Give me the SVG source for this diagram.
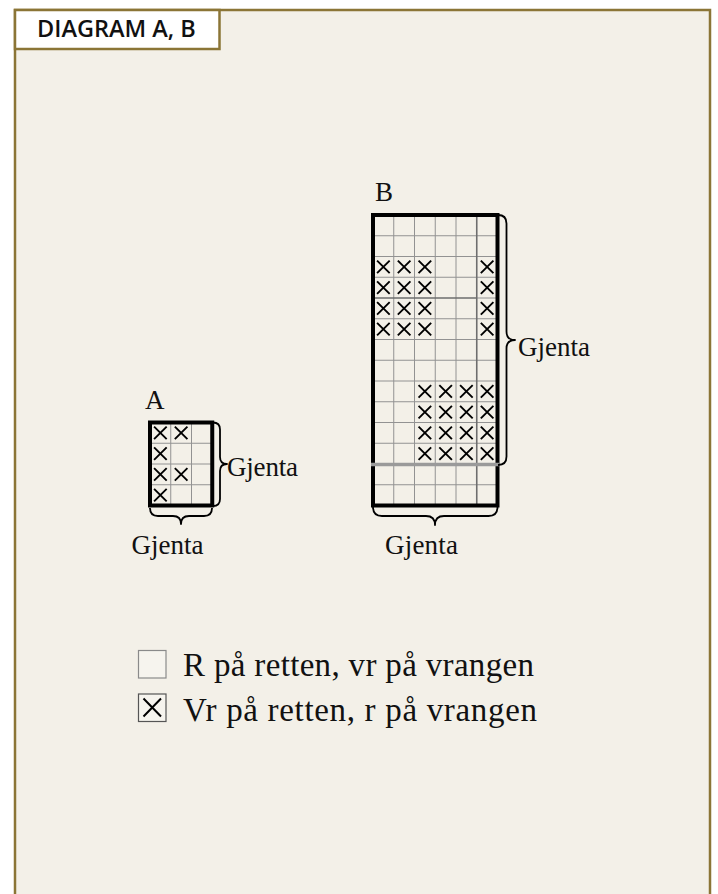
<svg xmlns="http://www.w3.org/2000/svg" xmlns:xlink="http://www.w3.org/1999/xlink" width="718" height="894" viewBox="0 0 718 894">
<style>
.frame{fill:#F3F0E8;stroke:#8B7536;stroke-width:2.5}
.title{font-family:"Open Sans","Liberation Sans",sans-serif;font-weight:600;font-size:23.5px;fill:#111}
.lbl{font-family:"Liberation Serif","Times New Roman",serif;fill:#111}
.grid{stroke:#929292;stroke-width:1;fill:none}
.dark{stroke:#6e6e6e;stroke-width:1.6;fill:none}
.border{fill:none;stroke:#000;stroke-width:4}
.brace{fill:none;stroke:#000;stroke-width:1.8;stroke-linejoin:round}
.xm{stroke:#000;stroke-width:1.9;fill:none}
</style>
<defs>
<path id="x" class="xm" d="M-6.3,-6.3 L6.3,6.3 M6.3,-6.3 L-6.3,6.3"/>
</defs>
<rect width="718" height="894" fill="#ffffff"/>
<g id="frame">
<rect class="frame" x="15" y="10" width="695" height="900"/>
<rect x="15" y="10" width="204.5" height="39" fill="#ffffff" stroke="#8B7536" stroke-width="2.5"/>
<text class="title" x="37" y="37">DIAGRAM A, B</text>
</g>

<g id="chartA">
<text class="lbl" x="145" y="409" font-size="27">A</text>
<g class="grid">
<path d="M170.75,422.5V505.5M191.5,422.5V505.5M150,443.25H212.25M150,464H212.25M150,484.75H212.25"/>
</g>
<use xlink:href="#x" x="160.375" y="432.875"/>
<use xlink:href="#x" x="181.125" y="432.875"/>
<use xlink:href="#x" x="160.375" y="453.625"/>
<use xlink:href="#x" x="160.375" y="474.375"/>
<use xlink:href="#x" x="181.125" y="474.375"/>
<use xlink:href="#x" x="160.375" y="495.125"/>
<rect class="border" x="150" y="422.5" width="62.25" height="83"/>
</g>

<g id="chartB">
<text class="lbl" x="375" y="201" font-size="27">B</text>
<g class="grid">
<path d="M393.75,215V505.5M414.5,215V505.5M435.25,215V505.5M456,215V505.5"/>
<path d="M373,235.75H497.5M373,256.5H497.5M373,277.25H497.5M476.75,298H497.5M373,318.75H497.5M373,339.5H497.5M373,360.25H497.5M373,381H497.5M373,401.75H497.5M373,422.5H497.5M373,443.25H497.5M373,484.75H497.5"/>
</g>
<path class="dark" d="M476.75,215V505.5M373,298H476.75"/>
<g>
<use xlink:href="#x" x="383.375" y="266.875"/><use xlink:href="#x" x="404.125" y="266.875"/><use xlink:href="#x" x="424.875" y="266.875"/><use xlink:href="#x" x="487.125" y="266.875"/>
<use xlink:href="#x" x="383.375" y="287.625"/><use xlink:href="#x" x="404.125" y="287.625"/><use xlink:href="#x" x="424.875" y="287.625"/><use xlink:href="#x" x="487.125" y="287.625"/>
<use xlink:href="#x" x="383.375" y="308.375"/><use xlink:href="#x" x="404.125" y="308.375"/><use xlink:href="#x" x="424.875" y="308.375"/><use xlink:href="#x" x="487.125" y="308.375"/>
<use xlink:href="#x" x="383.375" y="329.125"/><use xlink:href="#x" x="404.125" y="329.125"/><use xlink:href="#x" x="424.875" y="329.125"/><use xlink:href="#x" x="487.125" y="329.125"/>
<use xlink:href="#x" x="424.875" y="391.375"/><use xlink:href="#x" x="445.625" y="391.375"/><use xlink:href="#x" x="466.375" y="391.375"/><use xlink:href="#x" x="487.125" y="391.375"/>
<use xlink:href="#x" x="424.875" y="412.125"/><use xlink:href="#x" x="445.625" y="412.125"/><use xlink:href="#x" x="466.375" y="412.125"/><use xlink:href="#x" x="487.125" y="412.125"/>
<use xlink:href="#x" x="424.875" y="432.875"/><use xlink:href="#x" x="445.625" y="432.875"/><use xlink:href="#x" x="466.375" y="432.875"/><use xlink:href="#x" x="487.125" y="432.875"/>
<use xlink:href="#x" x="424.875" y="453.625"/><use xlink:href="#x" x="445.625" y="453.625"/><use xlink:href="#x" x="466.375" y="453.625"/><use xlink:href="#x" x="487.125" y="453.625"/>
</g>
<rect class="border" x="373" y="215" width="124.5" height="290.5" stroke-width="3.6"/>
<path d="M371,464.5H499.5" stroke="#9a9a9a" stroke-width="3.6"/>
</g>

<g id="connectors">
<path class="brace" d="M213,422.5 q7,0 7,7 V457 q0,7 7,7 q-7,0 -7,7 V499 q0,7 -7,7"/>
<path class="brace" d="M150,508 q0,8 8,8 H173 q8,0 8,8 q0,-8 8,-8 H204 q8,0 8,-8"/>
<path class="brace" d="M498,215 q8.5,0 8.5,8.5 V331.5 q0,8.5 8.5,8.5 q-8.5,0 -8.5,8.5 V456.5 q0,8.5 -8.5,8.5"/>
<path class="brace" d="M373,507 q0,9 9,9 H426 q9,0 9,9 q0,-9 9,-9 H488.5 q9,0 9,-9"/>
</g>

<g id="repeat-labels">
<text class="lbl" x="227" y="476" font-size="27" textLength="71" lengthAdjust="spacing">Gjenta</text>
<text class="lbl" x="131.5" y="553.5" font-size="27" textLength="72" lengthAdjust="spacing">Gjenta</text>
<text class="lbl" x="518" y="356" font-size="27" textLength="72" lengthAdjust="spacing">Gjenta</text>
<text class="lbl" x="385" y="553.5" font-size="27" textLength="73" lengthAdjust="spacing">Gjenta</text>
</g>

<g id="legend">
<rect x="138.5" y="650.5" width="27.5" height="27.5" fill="#F6F4EE" stroke="#8a8a8a" stroke-width="1.2"/>
<text class="lbl" x="183" y="676" font-size="33" textLength="351" lengthAdjust="spacing">R på retten, vr på vrangen</text>
<rect x="138.5" y="694" width="27.5" height="27.5" fill="#F6F4EE" stroke="#555" stroke-width="1.2"/>
<path d="M143.5,698.5 L161,716.5 M161,698.5 L143.5,716.5" stroke="#000" stroke-width="2" fill="none"/>
<text class="lbl" x="183" y="721" font-size="33" textLength="354" lengthAdjust="spacing">Vr på retten, r på vrangen</text>
</g>
</svg>
